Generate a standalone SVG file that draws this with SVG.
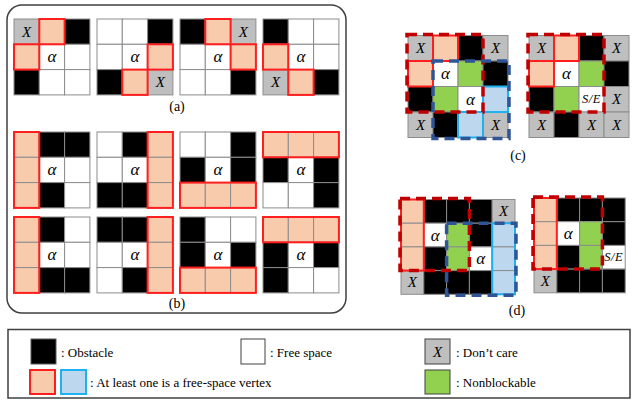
<svg xmlns="http://www.w3.org/2000/svg" width="638" height="401" viewBox="0 0 638 401">
<style>
.cells rect{stroke:#8c8c8c;stroke-width:1}
.k{fill:#000}.w{fill:#fff}.x{fill:#bfbfbf}.p{fill:#f8cbad}.b{fill:#bdd7ee}.n{fill:#92d050}
.ro{fill:none;stroke:#ff1f1f;stroke-width:2}
.bo{fill:none;stroke:#1fb0f0;stroke-width:2}
.rd{fill:none;stroke:#c00000;stroke-width:3.5;stroke-dasharray:10 6}
.bd{fill:none;stroke:#2f5597;stroke-width:3.5;stroke-dasharray:10 6}
.t{font-family:"Liberation Serif",serif;font-style:italic;text-anchor:middle;dominant-baseline:central;fill:#000}
.al{font-size:17px}.xl{font-size:15px}.se{font-size:12.5px;letter-spacing:0.5px}
.lb{font-family:"Liberation Serif",serif;font-size:14px;text-anchor:middle;fill:#000}
.lg{font-family:"Liberation Serif",serif;font-size:13px;fill:#000}
.frame{fill:#fff;stroke:#404040;stroke-width:1.5}
</style>
<rect x="0" y="0" width="638" height="401" fill="#fff"/>
<rect class="frame" x="7" y="5" width="339" height="308" rx="15"/>

<!-- (a) -->
<g id="a1" transform="translate(14,19)">
<g class="cells">
<rect class="x" x="0" y="0" width="25.3" height="25.3"/><rect class="p" x="25.3" y="0" width="25.3" height="25.3"/><rect class="k" x="50.6" y="0" width="25.3" height="25.3"/>
<rect class="p" x="0" y="25.3" width="25.3" height="25.3"/><rect class="w" x="25.3" y="25.3" width="25.3" height="25.3"/><rect class="w" x="50.6" y="25.3" width="25.3" height="25.3"/>
<rect class="k" x="0" y="50.6" width="25.3" height="25.3"/><rect class="w" x="25.3" y="50.6" width="25.3" height="25.3"/><rect class="w" x="50.6" y="50.6" width="25.3" height="25.3"/>
</g>
<rect class="ro" x="25.3" y="0" width="25.3" height="25.3"/><rect class="ro" x="0" y="25.3" width="25.3" height="25.3"/>
<text class="t xl" x="12.65" y="12.65">X</text><text class="t al" x="37.95" y="37.95">α</text>
</g>
<g id="a2" transform="translate(97,19)">
<g class="cells">
<rect class="w" x="0" y="0" width="25.3" height="25.3"/><rect class="w" x="25.3" y="0" width="25.3" height="25.3"/><rect class="k" x="50.6" y="0" width="25.3" height="25.3"/>
<rect class="w" x="0" y="25.3" width="25.3" height="25.3"/><rect class="w" x="25.3" y="25.3" width="25.3" height="25.3"/><rect class="p" x="50.6" y="25.3" width="25.3" height="25.3"/>
<rect class="k" x="0" y="50.6" width="25.3" height="25.3"/><rect class="p" x="25.3" y="50.6" width="25.3" height="25.3"/><rect class="x" x="50.6" y="50.6" width="25.3" height="25.3"/>
</g>
<rect class="ro" x="50.6" y="25.3" width="25.3" height="25.3"/><rect class="ro" x="25.3" y="50.6" width="25.3" height="25.3"/>
<text class="t al" x="37.95" y="37.95">α</text><text class="t xl" x="63.25" y="63.25">X</text>
</g>
<g id="a3" transform="translate(180,19)">
<g class="cells">
<rect class="k" x="0" y="0" width="25.3" height="25.3"/><rect class="p" x="25.3" y="0" width="25.3" height="25.3"/><rect class="x" x="50.6" y="0" width="25.3" height="25.3"/>
<rect class="w" x="0" y="25.3" width="25.3" height="25.3"/><rect class="w" x="25.3" y="25.3" width="25.3" height="25.3"/><rect class="p" x="50.6" y="25.3" width="25.3" height="25.3"/>
<rect class="w" x="0" y="50.6" width="25.3" height="25.3"/><rect class="w" x="25.3" y="50.6" width="25.3" height="25.3"/><rect class="k" x="50.6" y="50.6" width="25.3" height="25.3"/>
</g>
<rect class="ro" x="25.3" y="0" width="25.3" height="25.3"/><rect class="ro" x="50.6" y="25.3" width="25.3" height="25.3"/>
<text class="t xl" x="63.25" y="12.65">X</text><text class="t al" x="37.95" y="37.95">α</text>
</g>
<g id="a4" transform="translate(263,19)">
<g class="cells">
<rect class="k" x="0" y="0" width="25.3" height="25.3"/><rect class="w" x="25.3" y="0" width="25.3" height="25.3"/><rect class="w" x="50.6" y="0" width="25.3" height="25.3"/>
<rect class="p" x="0" y="25.3" width="25.3" height="25.3"/><rect class="w" x="25.3" y="25.3" width="25.3" height="25.3"/><rect class="w" x="50.6" y="25.3" width="25.3" height="25.3"/>
<rect class="x" x="0" y="50.6" width="25.3" height="25.3"/><rect class="p" x="25.3" y="50.6" width="25.3" height="25.3"/><rect class="k" x="50.6" y="50.6" width="25.3" height="25.3"/>
</g>
<rect class="ro" x="0" y="25.3" width="25.3" height="25.3"/><rect class="ro" x="25.3" y="50.6" width="25.3" height="25.3"/>
<text class="t al" x="37.95" y="37.95">α</text><text class="t xl" x="12.65" y="63.25">X</text>
</g>
<text id="label-a" class="lb" x="177" y="111">(a)</text>

<!-- (b) row 1 -->
<g id="b1" transform="translate(14,132)">
<g class="cells">
<rect class="p" x="0" y="0" width="25.3" height="25.3"/><rect class="k" x="25.3" y="0" width="25.3" height="25.3"/><rect class="k" x="50.6" y="0" width="25.3" height="25.3"/>
<rect class="p" x="0" y="25.3" width="25.3" height="25.3"/><rect class="w" x="25.3" y="25.3" width="25.3" height="25.3"/><rect class="w" x="50.6" y="25.3" width="25.3" height="25.3"/>
<rect class="p" x="0" y="50.6" width="25.3" height="25.3"/><rect class="k" x="25.3" y="50.6" width="25.3" height="25.3"/><rect class="w" x="50.6" y="50.6" width="25.3" height="25.3"/>
</g>
<rect class="ro" x="0" y="0" width="25.3" height="75.9"/>
<text class="t al" x="37.95" y="37.95">α</text>
</g>
<g id="b2" transform="translate(97,132)">
<g class="cells">
<rect class="w" x="0" y="0" width="25.3" height="25.3"/><rect class="k" x="25.3" y="0" width="25.3" height="25.3"/><rect class="p" x="50.6" y="0" width="25.3" height="25.3"/>
<rect class="w" x="0" y="25.3" width="25.3" height="25.3"/><rect class="w" x="25.3" y="25.3" width="25.3" height="25.3"/><rect class="p" x="50.6" y="25.3" width="25.3" height="25.3"/>
<rect class="k" x="0" y="50.6" width="25.3" height="25.3"/><rect class="k" x="25.3" y="50.6" width="25.3" height="25.3"/><rect class="p" x="50.6" y="50.6" width="25.3" height="25.3"/>
</g>
<rect class="ro" x="50.6" y="0" width="25.3" height="75.9"/>
<text class="t al" x="37.95" y="37.95">α</text>
</g>
<g id="b3" transform="translate(180,132)">
<g class="cells">
<rect class="w" x="0" y="0" width="25.3" height="25.3"/><rect class="w" x="25.3" y="0" width="25.3" height="25.3"/><rect class="k" x="50.6" y="0" width="25.3" height="25.3"/>
<rect class="k" x="0" y="25.3" width="25.3" height="25.3"/><rect class="w" x="25.3" y="25.3" width="25.3" height="25.3"/><rect class="k" x="50.6" y="25.3" width="25.3" height="25.3"/>
<rect class="p" x="0" y="50.6" width="25.3" height="25.3"/><rect class="p" x="25.3" y="50.6" width="25.3" height="25.3"/><rect class="p" x="50.6" y="50.6" width="25.3" height="25.3"/>
</g>
<rect class="ro" x="0" y="50.6" width="75.9" height="25.3"/>
<text class="t al" x="37.95" y="37.95">α</text>
</g>
<g id="b4" transform="translate(263,132)">
<g class="cells">
<rect class="p" x="0" y="0" width="25.3" height="25.3"/><rect class="p" x="25.3" y="0" width="25.3" height="25.3"/><rect class="p" x="50.6" y="0" width="25.3" height="25.3"/>
<rect class="k" x="0" y="25.3" width="25.3" height="25.3"/><rect class="w" x="25.3" y="25.3" width="25.3" height="25.3"/><rect class="k" x="50.6" y="25.3" width="25.3" height="25.3"/>
<rect class="w" x="0" y="50.6" width="25.3" height="25.3"/><rect class="w" x="25.3" y="50.6" width="25.3" height="25.3"/><rect class="k" x="50.6" y="50.6" width="25.3" height="25.3"/>
</g>
<rect class="ro" x="0" y="0" width="75.9" height="25.3"/>
<text class="t al" x="37.95" y="37.95">α</text>
</g>

<!-- (b) row 2 -->
<g id="b5" transform="translate(14,217)">
<g class="cells">
<rect class="p" x="0" y="0" width="25.3" height="25.3"/><rect class="k" x="25.3" y="0" width="25.3" height="25.3"/><rect class="w" x="50.6" y="0" width="25.3" height="25.3"/>
<rect class="p" x="0" y="25.3" width="25.3" height="25.3"/><rect class="w" x="25.3" y="25.3" width="25.3" height="25.3"/><rect class="w" x="50.6" y="25.3" width="25.3" height="25.3"/>
<rect class="p" x="0" y="50.6" width="25.3" height="25.3"/><rect class="k" x="25.3" y="50.6" width="25.3" height="25.3"/><rect class="k" x="50.6" y="50.6" width="25.3" height="25.3"/>
</g>
<rect class="ro" x="0" y="0" width="25.3" height="75.9"/>
<text class="t al" x="37.95" y="37.95">α</text>
</g>
<g id="b6" transform="translate(97,217)">
<g class="cells">
<rect class="k" x="0" y="0" width="25.3" height="25.3"/><rect class="k" x="25.3" y="0" width="25.3" height="25.3"/><rect class="p" x="50.6" y="0" width="25.3" height="25.3"/>
<rect class="w" x="0" y="25.3" width="25.3" height="25.3"/><rect class="w" x="25.3" y="25.3" width="25.3" height="25.3"/><rect class="p" x="50.6" y="25.3" width="25.3" height="25.3"/>
<rect class="w" x="0" y="50.6" width="25.3" height="25.3"/><rect class="k" x="25.3" y="50.6" width="25.3" height="25.3"/><rect class="p" x="50.6" y="50.6" width="25.3" height="25.3"/>
</g>
<rect class="ro" x="50.6" y="0" width="25.3" height="75.9"/>
<text class="t al" x="37.95" y="37.95">α</text>
</g>
<g id="b7" transform="translate(180,217)">
<g class="cells">
<rect class="k" x="0" y="0" width="25.3" height="25.3"/><rect class="w" x="25.3" y="0" width="25.3" height="25.3"/><rect class="w" x="50.6" y="0" width="25.3" height="25.3"/>
<rect class="k" x="0" y="25.3" width="25.3" height="25.3"/><rect class="w" x="25.3" y="25.3" width="25.3" height="25.3"/><rect class="k" x="50.6" y="25.3" width="25.3" height="25.3"/>
<rect class="p" x="0" y="50.6" width="25.3" height="25.3"/><rect class="p" x="25.3" y="50.6" width="25.3" height="25.3"/><rect class="p" x="50.6" y="50.6" width="25.3" height="25.3"/>
</g>
<rect class="ro" x="0" y="50.6" width="75.9" height="25.3"/>
<text class="t al" x="37.95" y="37.95">α</text>
</g>
<g id="b8" transform="translate(263,217)">
<g class="cells">
<rect class="p" x="0" y="0" width="25.3" height="25.3"/><rect class="p" x="25.3" y="0" width="25.3" height="25.3"/><rect class="p" x="50.6" y="0" width="25.3" height="25.3"/>
<rect class="k" x="0" y="25.3" width="25.3" height="25.3"/><rect class="w" x="25.3" y="25.3" width="25.3" height="25.3"/><rect class="k" x="50.6" y="25.3" width="25.3" height="25.3"/>
<rect class="k" x="0" y="50.6" width="25.3" height="25.3"/><rect class="w" x="25.3" y="50.6" width="25.3" height="25.3"/><rect class="w" x="50.6" y="50.6" width="25.3" height="25.3"/>
</g>
<rect class="ro" x="0" y="0" width="75.9" height="25.3"/>
<text class="t al" x="37.95" y="37.95">α</text>
</g>
<text id="label-b" class="lb" x="177" y="308">(b)</text>

<!-- (c) -->
<g id="c1" transform="translate(408,35.5)">
<g class="cells">
<rect class="x" x="0" y="0" width="25" height="25.5"/><rect class="p" x="25" y="0" width="25" height="25.5"/><rect class="k" x="50" y="0" width="25" height="25.5"/><rect class="x" x="75" y="0" width="25" height="25.5"/>
<rect class="p" x="0" y="25.5" width="25" height="25.5"/><rect class="w" x="25" y="25.5" width="25" height="25.5"/><rect class="n" x="50" y="25.5" width="25" height="25.5"/><rect class="k" x="75" y="25.5" width="25" height="25.5"/>
<rect class="k" x="0" y="51" width="25" height="25.5"/><rect class="n" x="25" y="51" width="25" height="25.5"/><rect class="w" x="50" y="51" width="25" height="25.5"/><rect class="b" x="75" y="51" width="25" height="25.5"/>
<rect class="x" x="0" y="76.5" width="25" height="25.5"/><rect class="k" x="25" y="76.5" width="25" height="25.5"/><rect class="b" x="50" y="76.5" width="25" height="25.5"/><rect class="x" x="75" y="76.5" width="25" height="25.5"/>
</g>
<rect class="ro" x="25" y="0" width="25" height="25.5"/><rect class="ro" x="0" y="25.5" width="25" height="25.5"/>
<rect class="bo" x="75" y="51" width="25" height="25.5"/><rect class="bo" x="50" y="76.5" width="25" height="25.5"/>
<text class="t xl" x="12.5" y="12.75">X</text><text class="t xl" x="87.5" y="12.75">X</text>
<text class="t al" x="37.5" y="38.25">α</text><text class="t al" x="62.5" y="63.75">α</text>
<text class="t xl" x="12.5" y="89.25">X</text><text class="t xl" x="87.5" y="89.25">X</text>
<rect class="rd" x="-1" y="-1" width="76" height="77.5"/>
<rect class="bd" x="25" y="25.5" width="76" height="77.5"/>
</g>
<g id="c2" transform="translate(529,35.5)">
<g class="cells">
<rect class="x" x="0" y="0" width="25" height="25.5"/><rect class="p" x="25" y="0" width="25" height="25.5"/><rect class="k" x="50" y="0" width="25" height="25.5"/><rect class="x" x="75" y="0" width="25" height="25.5"/>
<rect class="p" x="0" y="25.5" width="25" height="25.5"/><rect class="w" x="25" y="25.5" width="25" height="25.5"/><rect class="n" x="50" y="25.5" width="25" height="25.5"/><rect class="k" x="75" y="25.5" width="25" height="25.5"/>
<rect class="k" x="0" y="51" width="25" height="25.5"/><rect class="n" x="25" y="51" width="25" height="25.5"/><rect class="w" x="50" y="51" width="25" height="25.5"/><rect class="x" x="75" y="51" width="25" height="25.5"/>
<rect class="x" x="0" y="76.5" width="25" height="25.5"/><rect class="k" x="25" y="76.5" width="25" height="25.5"/><rect class="x" x="50" y="76.5" width="25" height="25.5"/><rect class="x" x="75" y="76.5" width="25" height="25.5"/>
</g>
<rect class="ro" x="25" y="0" width="25" height="25.5"/><rect class="ro" x="0" y="25.5" width="25" height="25.5"/>
<text class="t xl" x="12.5" y="12.75">X</text><text class="t xl" x="87.5" y="12.75">X</text>
<text class="t al" x="37.5" y="38.25">α</text>
<text class="t se" x="62.5" y="63.75">S/E</text><text class="t xl" x="87.5" y="63.75">X</text>
<text class="t xl" x="12.5" y="89.25">X</text><text class="t xl" x="62.5" y="89.25">X</text><text class="t xl" x="87.5" y="89.25">X</text>
<rect class="rd" x="-1" y="-1" width="76" height="77.5"/>
</g>
<text id="label-c" class="lb" x="518" y="160">(c)</text>

<!-- (d) -->
<g id="d1" transform="translate(401,199.5)">
<g class="cells">
<rect class="p" x="0" y="0" width="22.8" height="23.7"/><rect class="k" x="22.8" y="0" width="22.8" height="23.7"/><rect class="k" x="45.6" y="0" width="22.8" height="23.7"/><rect class="k" x="68.4" y="0" width="22.8" height="23.7"/><rect class="x" x="91.2" y="0" width="22.8" height="23.7"/>
<rect class="p" x="0" y="23.7" width="22.8" height="23.7"/><rect class="w" x="22.8" y="23.7" width="22.8" height="23.7"/><rect class="n" x="45.6" y="23.7" width="22.8" height="23.7"/><rect class="k" x="68.4" y="23.7" width="22.8" height="23.7"/><rect class="b" x="91.2" y="23.7" width="22.8" height="23.7"/>
<rect class="p" x="0" y="47.4" width="22.8" height="23.7"/><rect class="k" x="22.8" y="47.4" width="22.8" height="23.7"/><rect class="n" x="45.6" y="47.4" width="22.8" height="23.7"/><rect class="w" x="68.4" y="47.4" width="22.8" height="23.7"/><rect class="b" x="91.2" y="47.4" width="22.8" height="23.7"/>
<rect class="x" x="0" y="71.1" width="22.8" height="23.7"/><rect class="k" x="22.8" y="71.1" width="22.8" height="23.7"/><rect class="k" x="45.6" y="71.1" width="22.8" height="23.7"/><rect class="k" x="68.4" y="71.1" width="22.8" height="23.7"/><rect class="b" x="91.2" y="71.1" width="22.8" height="23.7"/>
</g>
<rect class="ro" x="0" y="0" width="22.8" height="71.1"/>
<rect class="bo" x="91.2" y="23.7" width="22.8" height="71.1"/>
<text class="t xl" x="102.6" y="11.85">X</text>
<text class="t al" x="34.2" y="35.55">α</text><text class="t al" x="79.8" y="59.25">α</text>
<text class="t xl" x="11.4" y="82.95">X</text>
<rect class="rd" x="-1" y="-1" width="69.4" height="72.1"/>
<rect class="bd" x="45.6" y="23.7" width="69.4" height="72.1"/>
</g>
<g id="d2" transform="translate(534,198)">
<g class="cells">
<rect class="p" x="0" y="0" width="22.8" height="23.7"/><rect class="k" x="22.8" y="0" width="22.8" height="23.7"/><rect class="k" x="45.6" y="0" width="22.8" height="23.7"/><rect class="k" x="68.4" y="0" width="22.8" height="23.7"/>
<rect class="p" x="0" y="23.7" width="22.8" height="23.7"/><rect class="w" x="22.8" y="23.7" width="22.8" height="23.7"/><rect class="n" x="45.6" y="23.7" width="22.8" height="23.7"/><rect class="k" x="68.4" y="23.7" width="22.8" height="23.7"/>
<rect class="p" x="0" y="47.4" width="22.8" height="23.7"/><rect class="k" x="22.8" y="47.4" width="22.8" height="23.7"/><rect class="n" x="45.6" y="47.4" width="22.8" height="23.7"/><rect class="w" x="68.4" y="47.4" width="22.8" height="23.7"/>
<rect class="x" x="0" y="71.1" width="22.8" height="23.7"/><rect class="k" x="22.8" y="71.1" width="22.8" height="23.7"/><rect class="k" x="45.6" y="71.1" width="22.8" height="23.7"/><rect class="k" x="68.4" y="71.1" width="22.8" height="23.7"/>
</g>
<rect class="ro" x="0" y="0" width="22.8" height="71.1"/>
<text class="t al" x="34.2" y="35.55">α</text>
<text class="t se" x="79.8" y="59.25">S/E</text>
<text class="t xl" x="11.4" y="82.95">X</text>
<rect class="rd" x="-1" y="-1" width="69.4" height="72.1"/>
</g>
<text id="label-d" class="lb" x="517" y="315">(d)</text>

<!-- legend -->
<g id="legend">
<rect x="8" y="329.5" width="622" height="68.5" fill="#fff" stroke="#404040" stroke-width="1.5"/>
<rect class="k" x="31" y="339" width="25" height="25" stroke="#595959" stroke-width="1"/>
<text class="lg" x="61" y="357">: Obstacle</text>
<rect class="w" x="241" y="339" width="24" height="25" stroke="#404040" stroke-width="1"/>
<text class="lg" x="270" y="357">: Free space</text>
<rect class="x" x="425" y="339" width="25" height="25" stroke="#404040" stroke-width="1"/>
<text class="t xl" x="437.5" y="351.5">X</text>
<text class="lg" x="456" y="357">: Don’t care</text>
<rect class="p" x="30" y="370" width="25" height="24" stroke="#ff1f1f" stroke-width="2"/>
<rect class="b" x="61" y="370" width="25" height="24" stroke="#1fb0f0" stroke-width="2"/>
<text class="lg" x="90" y="387">: At least one is a free-space vertex</text>
<rect class="n" x="425" y="370" width="25" height="24" stroke="#404040" stroke-width="1"/>
<text class="lg" x="456" y="387">: Nonblockable</text>
</g>
</svg>
